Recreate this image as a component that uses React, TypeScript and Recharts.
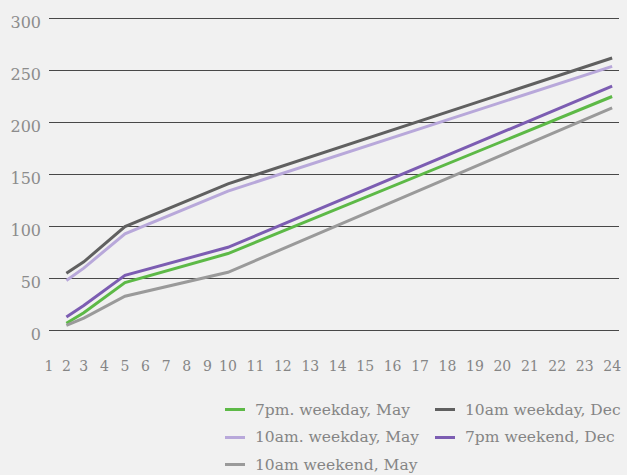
import React from 'react';
import { LineChart, Line, XAxis, YAxis, CartesianGrid, Legend } from 'recharts';

// ---- data ----
const hours = [2, 3, 5, 10, 24];
const pmWeekdayMay = [7, 17, 46, 74, 225];
const amWeekdayDec = [55, 66, 100, 141, 262];
const amWeekdayMay = [48, 60, 93, 134, 254];
const pmWeekendDec = [13, 24, 53, 80, 235];
const amWeekendMay = [5, 12, 33, 56, 214];

const xTicks = [1, 2, 3, 4, 5, 6, 7, 8, 9, 10, 11, 12, 13, 14, 15, 16, 17, 18, 19, 20, 21, 22, 23, 24];
const yTicks = [0, 50, 100, 150, 200, 250, 300];

const seriesNames = [
  '7pm. weekday, May',
  '10am weekday, Dec',
  '10am. weekday, May',
  '7pm weekend, Dec',
  '10am weekend, May',
];
const seriesValues = [pmWeekdayMay, amWeekdayDec, amWeekdayMay, pmWeekendDec, amWeekendMay];
const seriesColors = ['#5db947', '#606060', '#b8a8da', '#7c5db2', '#9a9a9a'];

const data = hours.map((h, i) => {
  const row: Record<string, number> = { hour: h };
  seriesNames.forEach((n, k) => {
    row[n] = seriesValues[k][i];
  });
  return row;
});

// piecewise-linear x scale (the reference axis is stretched toward the right)
const scaleKnots = [1, 3, 10, 24.25];
const scaleStops = [0, 0.061, 0.314, 1];

function piecewiseScale(knots: number[], stops: number[]) {
  let dom: number[] = [knots[0], knots[knots.length - 1]];
  let rng: number[] = [0, 1];
  const s: any = (v: number) => {
    let i = 0;
    while (i < knots.length - 2 && v > knots[i + 1]) i++;
    const t = (v - knots[i]) / (knots[i + 1] - knots[i]);
    const f = stops[i] + t * (stops[i + 1] - stops[i]);
    return rng[0] + f * (rng[1] - rng[0]);
  };
  s.domain = (d?: number[]) => {
    if (d === undefined) return dom.slice();
    dom = d.slice();
    return s;
  };
  s.range = (r?: number[]) => {
    if (r === undefined) return rng.slice();
    rng = r.slice();
    return s;
  };
  s.copy = () => {
    const c = piecewiseScale(knots, stops);
    c.domain(dom);
    c.range(rng);
    return c;
  };
  s.ticks = () => xTicks.slice();
  s.invert = (p: number) => {
    const f = (p - rng[0]) / (rng[1] - rng[0]);
    let i = 0;
    while (i < stops.length - 2 && f > stops[i + 1]) i++;
    const t = (f - stops[i]) / (stops[i + 1] - stops[i]);
    return knots[i] + t * (knots[i + 1] - knots[i]);
  };
  return s;
}

const xScale = piecewiseScale(scaleKnots, scaleStops);

const FONT = '"DejaVu Serif", serif';

const LegendContent = (props: any) => {
  const payload = (props.payload || []).slice();
  payload.sort((a: any, b: any) => seriesNames.indexOf(a.value) - seriesNames.indexOf(b.value));
  return (
    <div
      style={{
        display: 'grid',
        gridTemplateColumns: '210px 192px',
        fontFamily: FONT,
        fontSize: 15.5,
        color: '#858585',
      }}
    >
      {payload.map((p: any) => (
        <div key={p.value} style={{ display: 'flex', alignItems: 'center', height: 27.5, whiteSpace: 'nowrap' }}>
          <div style={{ width: 20, height: 3, background: p.color, marginRight: 10 }} />
          <span>{p.value}</span>
        </div>
      ))}
    </div>
  );
};

export default function App() {
  return (
    <div style={{ width: 627, height: 475, background: '#f1f1f1' }}>
      <style>{`body{margin:0;background:#f1f1f1;}`}</style>
      <LineChart width={627} height={475} data={data} margin={{ top: 18.5, right: 8, bottom: 114.5, left: 0 }}>
        <CartesianGrid vertical={false} stroke="#484848" strokeWidth={1} />
        <XAxis
          dataKey="hour"
          type="number"
          scale={xScale}
          domain={[1, 24.25]}
          ticks={xTicks}
          interval={0}
          axisLine={false}
          tickLine={false}
          tickSize={0}
          tickMargin={30.5}
          height={30}
          tick={{ fill: '#858585', fontSize: 14, fontFamily: FONT }}
        />
        <YAxis
          domain={[0, 300]}
          ticks={yTicks}
          width={49}
          axisLine={false}
          tickLine={false}
          tickSize={0}
          tickMargin={8}
          tick={{ fill: '#8c8c8c', fontSize: 16, fontFamily: FONT, dy: 4 }}
        />
        {seriesNames.map((n, k) => (
          <Line
            key={n}
            type="linear"
            dataKey={n}
            stroke={seriesColors[k]}
            strokeWidth={3}
            dot={false}
            activeDot={false}
            isAnimationActive={false}
          />
        ))}
        <Legend
          layout="horizontal"
          verticalAlign="middle"
          align="center"
          itemSorter={null as any}
          wrapperStyle={{ top: 396, left: 225, width: 402 }}
          content={<LegendContent />}
        />
      </LineChart>
    </div>
  );
}
